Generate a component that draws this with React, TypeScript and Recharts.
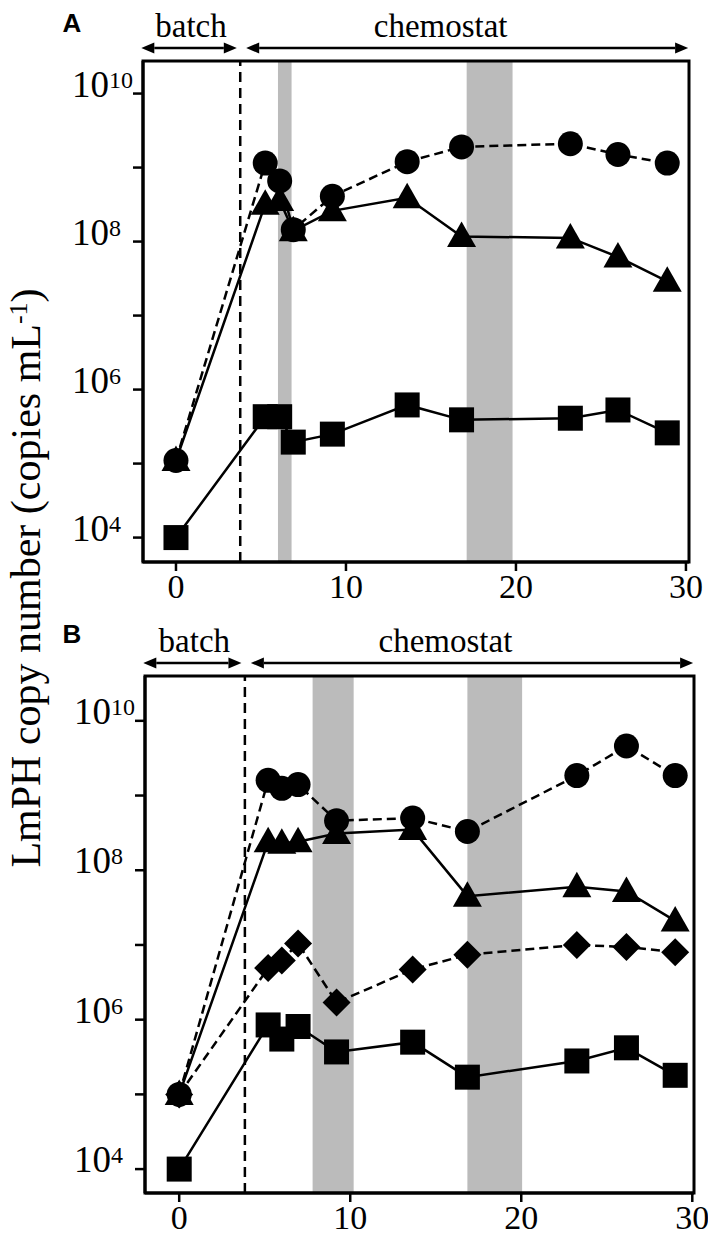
import React from "react";
import {
  LineChart,
  Line,
  XAxis,
  YAxis,
  ReferenceArea,
  ReferenceLine,
} from "recharts";

// sampling days (x) and copy numbers
const daysA = [0, 5.25, 6.1, 6.9, 9.2, 13.6, 16.8, 23.2, 26.0, 28.9];
const circlesA = [1.1e5, 1.15e9, 6.6e8, 1.45e8, 4.1e8, 1.2e9, 1.9e9, 2.1e9, 1.5e9, 1.15e9];
const trianglesA = [1.1e5, 3.2e8, 3.6e8, 1.4e8, 2.6e8, 3.9e8, 1.17e8, 1.12e8, 6.2e7, 2.9e7];
const squaresA = [1e4, 4.3e5, 4.3e5, 1.95e5, 2.5e5, 6.2e5, 3.9e5, 4.1e5, 5.3e5, 2.6e5];

const daysB = [0, 5.2, 6.0, 6.95, 9.2, 13.65, 16.85, 23.25, 26.15, 29.0];
const circlesB = [1e5, 1.6e9, 1.25e9, 1.4e9, 4.6e8, 5e8, 3.3e8, 1.85e9, 4.6e9, 1.85e9];
const trianglesB = [1e5, 2.4e8, 2.3e8, 2.4e8, 3.1e8, 3.5e8, 4.5e7, 6e7, 5.2e7, 2.1e7];
const diamondsB = [1e5, 4.9e6, 6.2e6, 1.05e7, 1.7e6, 4.7e6, 7.4e6, 1e7, 9.4e6, 8e6];
const squaresB = [1e4, 8.5e5, 5.5e5, 8.1e5, 3.7e5, 5e5, 1.7e5, 2.8e5, 4.2e5, 1.8e5];

// shaded periods and end of batch phase (days)
const bandsA = [[6.0, 6.8], [17.1, 19.8]];
const bandsB = [[7.8, 10.2], [16.85, 20.05]];
const batchEndA = 3.78;
const batchEndB = 3.84;

const xTicks = [0, 10, 20, 30];
const yTicks = [1e4, 1e5, 1e6, 1e7, 1e8, 1e9, 1e10];

const FONT = '"Liberation Serif", "Times New Roman", serif';
const SANS = '"Liberation Sans", Arial, sans-serif';

const rowsA = daysA.map((d, i) => ({
  day: d,
  circle: circlesA[i],
  triangle: trianglesA[i],
  square: squaresA[i],
}));
const rowsB = daysB.map((d, i) => ({
  day: d,
  circle: circlesB[i],
  triangle: trianglesB[i],
  diamond: diamondsB[i],
  square: squaresB[i],
}));

const marker = (kind: string) => (props: any) => {
  const { cx, cy, index } = props;
  if (cx == null || cy == null) return <g key={`${kind}-${index}`} />;
  let el;
  if (kind === "circle") el = <circle cx={cx} cy={cy} r={12.5} fill="#000" />;
  else if (kind === "square")
    el = <rect x={cx - 12.5} y={cy - 12.5} width={25} height={25} fill="#000" />;
  else if (kind === "triangle")
    el = <polygon points={`${cx},${cy - 15} ${cx - 14.5},${cy + 10.5} ${cx + 14.5},${cy + 10.5}`} fill="#000" />;
  else
    el = <polygon points={`${cx},${cy - 14} ${cx + 14},${cy} ${cx},${cy + 14} ${cx - 14},${cy}`} fill="#000" />;
  return <g key={`${kind}-${index}`}>{el}</g>;
};

const YTick = (props: any) => {
  const { x, y, payload } = props;
  const e = Math.round(Math.log10(payload.value));
  if (e % 2 !== 0) return <g />;
  return (
    <text x={x - 59} y={y + 3} fontFamily={FONT} fontSize={37} fill="#000">
      10
      <tspan dy={-9} fontSize={24}>
        {e}
      </tspan>
    </text>
  );
};

const XTick = (props: any) => {
  const { x, y, payload } = props;
  return (
    <text x={x} y={y + 25} textAnchor="middle" fontFamily={FONT} fontSize={34} fill="#000">
      {payload.value}
    </text>
  );
};

// double-headed arrow with its caption, drawn just above the plot frame
const arrowShape = (label: string, textFrac: number) => (p: any) => {
  const { x1, x2, y1 } = p;
  const ya = y1 - 13;
  const head = 13;
  const tx = x1 + (x2 - x1) * textFrac;
  return (
    <g>
      <line x1={x1 + head} y1={ya} x2={x2 - head} y2={ya} stroke="#000" strokeWidth={2.5} />
      <polygon points={`${x1},${ya} ${x1 + head},${ya - 5.5} ${x1 + head},${ya + 5.5}`} fill="#000" />
      <polygon points={`${x2},${ya} ${x2 - head},${ya - 5.5} ${x2 - head},${ya + 5.5}`} fill="#000" />
      <text x={tx} y={ya - 11} textAnchor="middle" fontFamily={FONT} fontSize={33} fill="#000">
        {label}
      </text>
    </g>
  );
};

type PanelProps = {
  rows: any[];
  series: { key: string; dashed: boolean }[];
  bands: number[][];
  batchEnd: number;
  xDomain: [number, number];
  yDomain: [number, number];
  height: number;
  margin: { top: number; right: number; left: number; bottom: number };
  yWidth: number;
  xHeight: number;
};

const Panel = ({ rows, series, bands, batchEnd, xDomain, yDomain, height, margin, yWidth, xHeight }: PanelProps) => (
  <LineChart width={708} height={height} data={rows} margin={margin}>
    {bands.map((b, i) => (
      <ReferenceArea key={`band-${i}`} x1={b[0]} x2={b[1]} fill="#bbbbbb" fillOpacity={1} stroke="none" ifOverflow="visible" />
    ))}
    <ReferenceLine x={batchEnd} stroke="#000" strokeWidth={2.5} strokeDasharray="10 6" />
    <ReferenceArea
      x1={xDomain[0]}
      x2={xDomain[1]}
      y1={yDomain[0]}
      y2={yDomain[1]}
      fill="none"
      stroke="#000"
      strokeWidth={3}
      ifOverflow="visible"
    />
    <ReferenceLine
      segment={[
        { x: xDomain[0] - 0.1, y: yDomain[1] },
        { x: batchEnd - 0.2, y: yDomain[1] },
      ]}
      ifOverflow="visible"
      shape={arrowShape("batch", 0.52)}
    />
    <ReferenceLine
      segment={[
        { x: batchEnd + 0.35, y: yDomain[1] },
        { x: xDomain[1] - 0.05, y: yDomain[1] },
      ]}
      ifOverflow="visible"
      shape={arrowShape("chemostat", 0.44)}
    />
    <XAxis
      dataKey="day"
      type="number"
      domain={xDomain}
      allowDataOverflow
      ticks={xTicks}
      tickSize={9}
      tickMargin={2}
      height={xHeight}
      axisLine={{ stroke: "#000", strokeWidth: 3 }}
      tickLine={{ stroke: "#000", strokeWidth: 2.5 }}
      tick={<XTick />}
    />
    <YAxis
      type="number"
      scale="log"
      domain={yDomain}
      allowDataOverflow
      ticks={yTicks}
      tickSize={10}
      tickMargin={2}
      width={yWidth}
      axisLine={{ stroke: "#000", strokeWidth: 3 }}
      tickLine={{ stroke: "#000", strokeWidth: 2.5 }}
      tick={<YTick />}
    />
    {series.map((s) => (
      <Line
        key={s.key}
        dataKey={s.key}
        type="linear"
        stroke="#000"
        strokeWidth={2.5}
        strokeDasharray={s.dashed ? "9 5" : undefined}
        dot={marker(s.key)}
        activeDot={false}
        isAnimationActive={false}
      />
    ))}
  </LineChart>
);

export default function App() {
  return (
    <div style={{ position: "absolute", left: 0, top: 0, width: 708, height: 1235, background: "#fff" }}>
      <div style={{ position: "absolute", left: 0, top: 0 }}>
        <Panel
          rows={rowsA}
          series={[
            { key: "square", dashed: false },
            { key: "triangle", dashed: false },
            { key: "circle", dashed: true },
          ]}
          bands={bandsA}
          batchEnd={batchEndA}
          xDomain={[-1.94, 30.18]}
          yDomain={[Math.pow(10, 3.67), Math.pow(10, 10.44)]}
          height={620}
          margin={{ top: 61, right: 19, left: 0, bottom: 8 }}
          yWidth={143}
          xHeight={50}
        />
      </div>
      <div style={{ position: "absolute", left: 0, top: 620 }}>
        <Panel
          rows={rowsB}
          series={[
            { key: "square", dashed: false },
            { key: "diamond", dashed: true },
            { key: "triangle", dashed: false },
            { key: "circle", dashed: true },
          ]}
          bands={bandsB}
          batchEnd={batchEndB}
          xDomain={[-2.0, 30.1]}
          yDomain={[Math.pow(10, 3.68), Math.pow(10, 10.6)]}
          height={615}
          margin={{ top: 56, right: 14, left: 0, bottom: 2 }}
          yWidth={145}
          xHeight={40}
        />
      </div>
      <svg
        width={708}
        height={1235}
        style={{ position: "absolute", left: 0, top: 0, pointerEvents: "none" }}
      >
        <text x={72} y={32} textAnchor="middle" fontFamily={SANS} fontWeight="bold" fontSize={26}>
          A
        </text>
        <text x={72} y={643} textAnchor="middle" fontFamily={SANS} fontWeight="bold" fontSize={26}>
          B
        </text>
        <text
          x={40}
          y={578}
          transform="rotate(-90, 40, 578)"
          textAnchor="middle"
          fontFamily={FONT}
          fontSize={42}
          fill="#000"
        >
          LmPH copy number (copies mL
          <tspan dy={-13} fontSize={26}>
            -1
          </tspan>
          <tspan dy={13}>)</tspan>
        </text>
      </svg>
    </div>
  );
}
